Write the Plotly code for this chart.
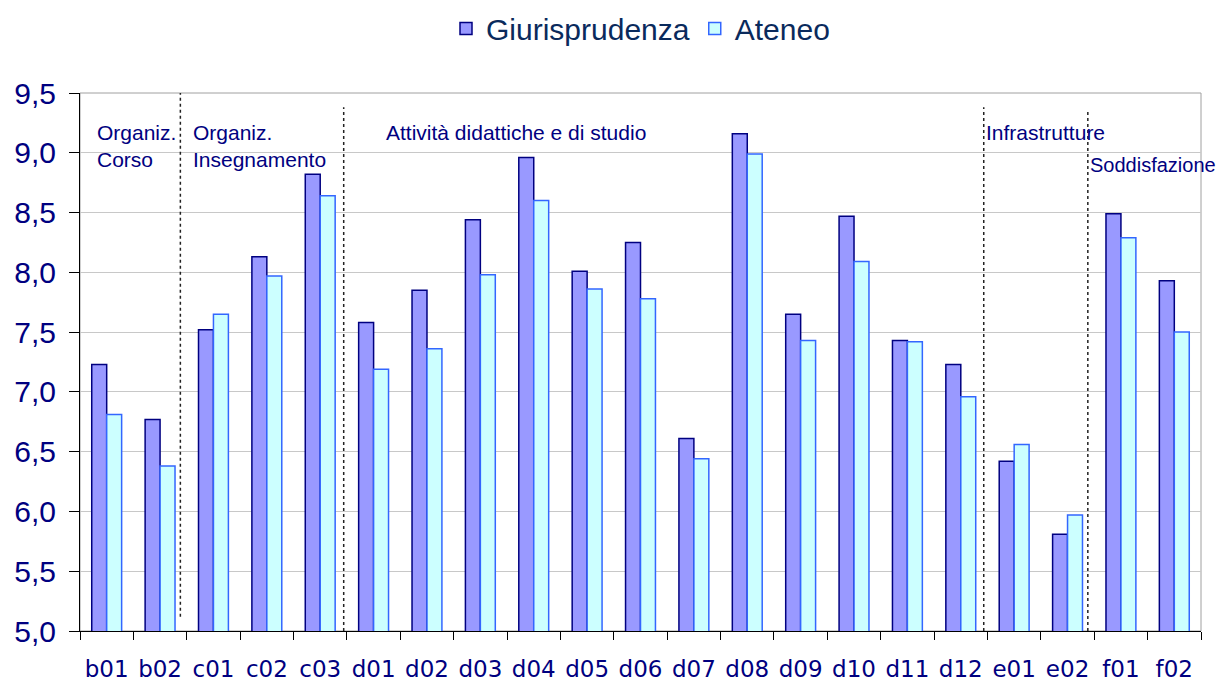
import plotly.graph_objects as go

categories = ["b01", "b02", "c01", "c02", "c03", "d01", "d02", "d03", "d04", "d05", "d06",
              "d07", "d08", "d09", "d10", "d11", "d12", "e01", "e02", "f01", "f02"]
giurisprudenza = [7.23, 6.77, 7.52, 8.13, 8.82, 7.58, 7.85, 8.44, 8.96, 8.01, 8.25,
                  6.61, 9.16, 7.65, 8.47, 7.43, 7.23, 6.42, 5.81, 8.49, 7.93]
ateneo = [6.81, 6.38, 7.65, 7.97, 8.64, 7.19, 7.36, 7.98, 8.60, 7.86, 7.78,
          6.44, 8.99, 7.43, 8.09, 7.42, 6.96, 6.56, 5.97, 8.29, 7.50]
y_ticks = [5.0, 5.5, 6.0, 6.5, 7.0, 7.5, 8.0, 8.5, 9.0, 9.5]

# section labels: (text, x position in category units, y value, font size)
sections = [
    ("Organiz.<br>Corso", -0.21, 9.285, 21),
    ("Organiz.<br>Insegnamento", 1.58, 9.285, 21),
    ("Attività didattiche e di studio", 5.19, 9.285, 21),
    ("Infrastrutture", 16.43, 9.285, 21),
    ("Soddisfazione", 18.38, 9.01, 20),
]
# dotted separators: (x in category units, y bottom, y top)
separators = [(1.38, 5.12, 9.5), (4.44, 5.0, 9.38), (16.43, 5.0, 9.38), (18.38, 5.0, 9.36)]

navy = "#000080"

fig = go.Figure()
fig.add_trace(go.Bar(
    x=categories, y=giurisprudenza, name="Giurisprudenza",
    marker=dict(color="#9999FF", line=dict(color="#000080", width=1.5)),
))
fig.add_trace(go.Bar(
    x=categories, y=ateneo, name="Ateneo",
    marker=dict(color="#CCFFFF", line=dict(color="#3366FF", width=1.5)),
))

shapes = [dict(type="rect", xref="paper", yref="paper", x0=0, x1=1, y0=0, y1=1,
               line=dict(color="#A0A0A0", width=1), layer="below")]
for xs, y0, y1 in separators:
    shapes.append(dict(type="line", xref="x", yref="y", x0=xs, x1=xs, y0=y0, y1=y1,
                       line=dict(color="#222222", width=1.5, dash="dot")))

annotations = []
for text, xs, yv, fs in sections:
    annotations.append(dict(x=xs, y=yv, xref="x", yref="y", text=text, showarrow=False,
                            xanchor="left", yanchor="top", align="left",
                            font=dict(family="Liberation Sans, Arial", size=fs, color=navy)))

# the page body adds an 8px offset, so the figure is 8px smaller and margins shifted
fig.update_layout(
    template="none",
    width=1216, height=674,
    margin=dict(l=72, r=23, t=85, b=51, autoexpand=False),
    paper_bgcolor="white", plot_bgcolor="white",
    separators=",.",
    barmode="group", bargap=0.44, bargroupgap=0,
    showlegend=True,
    legend=dict(orientation="h", x=0.5, xanchor="center", y=1.12, yanchor="middle",
                font=dict(family="Liberation Sans, Arial", size=30, color="#0A2A5C"),
                itemwidth=30, traceorder="normal", bgcolor="rgba(0,0,0,0)"),
    shapes=shapes, annotations=annotations,
    xaxis=dict(type="category", tickson="boundaries", ticks="outside", ticklen=8,
               tickcolor="black", showline=True, linecolor="black", linewidth=1,
               showgrid=False, range=[-0.5, 20.5], automargin=False,
               tickfont=dict(family="DejaVu Sans", size=23, color=navy),
               ticklabelstandoff=17),
    yaxis=dict(range=[5.0, 9.5], tickvals=y_ticks, tickformat=".1f",
               ticks="outside", ticklen=10, tickcolor="black", automargin=False,
               showline=True, linecolor="black", linewidth=1,
               showgrid=True, gridcolor="#C8C8C8", gridwidth=1, zeroline=False,
               tickfont=dict(family="Liberation Sans, Arial", size=30, color=navy),
               ticklabelstandoff=7),
)

fig.write_html("out.html")
